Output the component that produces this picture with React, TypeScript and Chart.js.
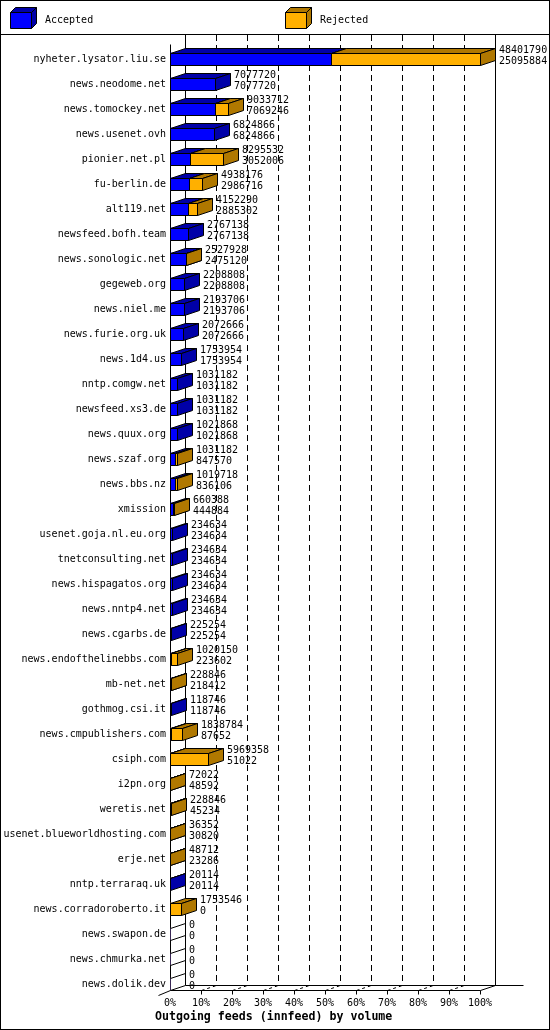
import React, { useEffect, useRef } from "react";
import { Chart, registerables } from "chart.js";

Chart.register(...registerables);

// ---- data ----
const hosts = [
  "nyheter.lysator.liu.se",
  "news.neodome.net",
  "news.tomockey.net",
  "news.usenet.ovh",
  "pionier.net.pl",
  "fu-berlin.de",
  "alt119.net",
  "newsfeed.bofh.team",
  "news.sonologic.net",
  "gegeweb.org",
  "news.niel.me",
  "news.furie.org.uk",
  "news.1d4.us",
  "nntp.comgw.net",
  "newsfeed.xs3.de",
  "news.quux.org",
  "news.szaf.org",
  "news.bbs.nz",
  "xmission",
  "usenet.goja.nl.eu.org",
  "tnetconsulting.net",
  "news.hispagatos.org",
  "news.nntp4.net",
  "news.cgarbs.de",
  "news.endofthelinebbs.com",
  "mb-net.net",
  "gothmog.csi.it",
  "news.cmpublishers.com",
  "csiph.com",
  "i2pn.org",
  "weretis.net",
  "usenet.blueworldhosting.com",
  "erje.net",
  "nntp.terraraq.uk",
  "news.corradoroberto.it",
  "news.swapon.de",
  "news.chmurka.net",
  "news.dolik.dev",
];

// first number of each label (offered volume)
const offered = [
  48401790, 7077720, 9033712, 6824866, 8295532, 4938176, 4152290, 2767138,
  2527928, 2208808, 2193706, 2072666, 1753954, 1031182, 1031182, 1021868,
  1031182, 1019718, 660388, 234634, 234634, 234634, 234634, 225254,
  1020150, 228846, 118746, 1838784, 5969358, 72022, 228846, 36352,
  48712, 20114, 1753546, 0, 0, 0,
];

// second number of each label (accepted volume)
const accepted = [
  25095884, 7077720, 7069246, 6824866, 3052006, 2986716, 2885302, 2767138,
  2475120, 2208808, 2193706, 2072666, 1753954, 1031182, 1031182, 1021868,
  847570, 836106, 444884, 234634, 234634, 234634, 234634, 225254,
  223602, 218412, 118746, 87652, 51022, 48592, 45234, 30820,
  23286, 20114, 0, 0, 0, 0,
];

const tickLabels = ["0%", "10%", "20%", "30%", "40%", "50%", "60%", "70%", "80%", "90%", "100%"];
const seriesNames = ["Accepted", "Rejected"];
const chartTitle = "Outgoing feeds (innfeed) by volume";

// ---- styling ----
const W = 550;
const H = 1030;
const DX = 15;
const DY = 5;
const FONT = '"DejaVu Sans Mono", "Liberation Mono", monospace';
const BLUE = "#0000FF";
const BLUE_D = "#0000A8";
const ORANGE = "#FFB000";
const ORANGE_D = "#B07800";

function seg(ctx: CanvasRenderingContext2D, x1: number, y1: number, x2: number, y2: number) {
  ctx.beginPath();
  ctx.moveTo(x1 + 0.5, y1 + 0.5);
  ctx.lineTo(x2 + 0.5, y2 + 0.5);
  ctx.stroke();
}

function poly(ctx: CanvasRenderingContext2D, pts: number[][], fill: string | null) {
  ctx.beginPath();
  pts.forEach(([x, y], j) => (j ? ctx.lineTo(x + 0.5, y + 0.5) : ctx.moveTo(x + 0.5, y + 0.5)));
  ctx.closePath();
  if (fill) {
    ctx.fillStyle = fill;
    ctx.fill();
  }
  ctx.stroke();
}

function box(
  ctx: CanvasRenderingContext2D,
  x0: number, x1: number, t: number, b: number,
  front: string, dark: string, dx: number, dy: number
) {
  poly(ctx, [[x0, t], [x1, t], [x1, b], [x0, b]], front);
  poly(ctx, [[x0, t], [x0 + dx, t - dy], [x1 + dx, t - dy], [x1, t]], dark);
  poly(ctx, [[x1, t], [x1 + dx, t - dy], [x1 + dx, b - dy], [x1, b]], dark);
}

const maxVal = Math.max(...offered);
const rejected = offered.map((v, i) => v - accepted[i]);

const threeD = {
  id: "threeD",
  beforeDraw(chart: any) {
    const ctx: CanvasRenderingContext2D = chart.ctx;
    ctx.save();
    ctx.fillStyle = "#fff";
    ctx.fillRect(0, 0, W, H);
    ctx.strokeStyle = "#000";
    ctx.lineWidth = 1;
    ctx.strokeRect(0.5, 0.5, W - 1, H - 1);
    seg(ctx, 0, 34, W - 1, 34);
    // legend
    box(ctx, 10, 31, 12, 28, BLUE, BLUE_D, 5, 5);
    box(ctx, 285, 306, 12, 28, ORANGE, ORANGE_D, 5, 5);
    ctx.fillStyle = "#000";
    ctx.font = `10px ${FONT}`;
    ctx.textAlign = "left";
    ctx.textBaseline = "middle";
    ctx.fillText(seriesNames[0], 45, 20);
    ctx.fillText(seriesNames[1], 320, 20);
    ctx.restore();
  },
  beforeDatasetsDraw(chart: any) {
    const ctx: CanvasRenderingContext2D = chart.ctx;
    const xs = chart.scales.x;
    const area = chart.chartArea;
    const L = Math.round(xs.getPixelForValue(0));
    const R = Math.round(xs.getPixelForValue(maxVal));
    const floorF = Math.round(area.bottom) - 7;
    const floorB = floorF - DY;
    const topF = Math.round(area.top) - 3;
    const topB = 35;
    ctx.save();
    ctx.strokeStyle = "#000";
    ctx.lineWidth = 1;
    // walls
    seg(ctx, L, topF, L, floorF);
    seg(ctx, L + DX, topB - 1, L + DX, floorB);
    seg(ctx, R + DX, topB - 1, R + DX, floorB);
    // floor
    seg(ctx, L, floorF, R, floorF);
    seg(ctx, R, floorF, R + DX, floorB);
    seg(ctx, L + DX, floorB, R + DX + 28, floorB);
    seg(ctx, L - 12, floorF + 5, L, floorF);
    // ticks and grid
    ctx.fillStyle = "#000";
    ctx.font = `10px ${FONT}`;
    ctx.textAlign = "center";
    ctx.textBaseline = "middle";
    for (let k = 0; k < tickLabels.length; k++) {
      const xf = Math.round(xs.getPixelForValue((maxVal * k) / (tickLabels.length - 1)));
      if (k > 0) seg(ctx, xf, floorF, xf, floorF + 4);
      if (k > 0 && k < tickLabels.length - 1) {
        ctx.setLineDash([3, 3]);
        seg(ctx, xf, floorF, xf + DX, floorB);
        ctx.setLineDash([6, 4]);
        ctx.beginPath();
        ctx.moveTo(xf + DX + 0.5, topB);
        ctx.lineTo(xf + DX + 0.5, floorB);
        ctx.stroke();
        ctx.setLineDash([]);
      }
      ctx.fillText(tickLabels[k], xf, floorF + 13);
    }
    // title
    ctx.font = `bold 11.6px ${FONT}`;
    ctx.textAlign = "left";
    ctx.fillText(chartTitle, 155, floorF + 27);
    ctx.restore();
  },
  afterDatasetsDraw(chart: any) {
    const ctx: CanvasRenderingContext2D = chart.ctx;
    const metaA = chart.getDatasetMeta(0);
    const metaR = chart.getDatasetMeta(1);
    ctx.save();
    ctx.strokeStyle = "#000";
    ctx.lineWidth = 1;
    for (let i = 0; i < hosts.length; i++) {
      const elA = metaA.data[i];
      const elR = metaR.data[i];
      const t = Math.round(elA.y - elA.height / 2);
      const b = t + 12;
      const x0 = Math.round(elA.base);
      const xa = Math.round(elA.x);
      const xr = Math.round(elR.x);
      if (offered[i] === 0) {
        seg(ctx, x0, t, x0 + DX, t - DY);
        seg(ctx, x0, b, x0 + DX, b - DY);
      } else {
        if (accepted[i] > 0) box(ctx, x0, xa, t, b, BLUE, BLUE_D, DX, DY);
        if (rejected[i] > 0) box(ctx, xa, xr, t, b, ORANGE, ORANGE_D, DX, DY);
      }
      ctx.fillStyle = "#000";
      ctx.font = `10px ${FONT}`;
      ctx.textAlign = "left";
      ctx.textBaseline = "middle";
      const lx = xr + DX + 4;
      ctx.fillText(String(offered[i]), lx, t - 3);
      ctx.fillText(String(accepted[i]), lx, t + 8);
    }
    ctx.restore();
  },
};

export default function App() {
  const ref = useRef<HTMLCanvasElement | null>(null);

  useEffect(() => {
    document.body.style.margin = "0";
    const canvas = ref.current;
    if (!canvas) return;
    const chart = new Chart(canvas, {
      type: "bar",
      data: {
        labels: hosts,
        datasets: [
          { label: seriesNames[0], data: accepted, backgroundColor: BLUE, borderWidth: 0, barThickness: 12 },
          { label: seriesNames[1], data: rejected, backgroundColor: ORANGE, borderWidth: 0, barThickness: 12 },
        ],
      },
      options: {
        indexAxis: "y",
        responsive: false,
        animation: false,
        events: [],
        layout: { padding: { top: 46.5, bottom: 33.5, left: 0, right: 70 } },
        plugins: {
          legend: { display: false },
          tooltip: { enabled: false },
          title: { display: false },
        },
        scales: {
          x: { type: "linear", stacked: true, min: 0, max: maxVal, display: false },
          y: {
            type: "category",
            stacked: true,
            grid: { display: false, drawTicks: false, tickLength: 0 },
            border: { display: false },
            ticks: { autoSkip: false, color: "#000", padding: 4, font: { family: FONT, size: 10 } },
            afterFit: (s: any) => {
              s.width = 170;
            },
          },
        },
      } as any,
      plugins: [threeD as any],
    });
    return () => chart.destroy();
  }, []);

  return (
    <div style={{ width: W, height: H }}>
      <canvas ref={ref} width={W} height={H} style={{ display: "block", width: W, height: H }} />
    </div>
  );
}
